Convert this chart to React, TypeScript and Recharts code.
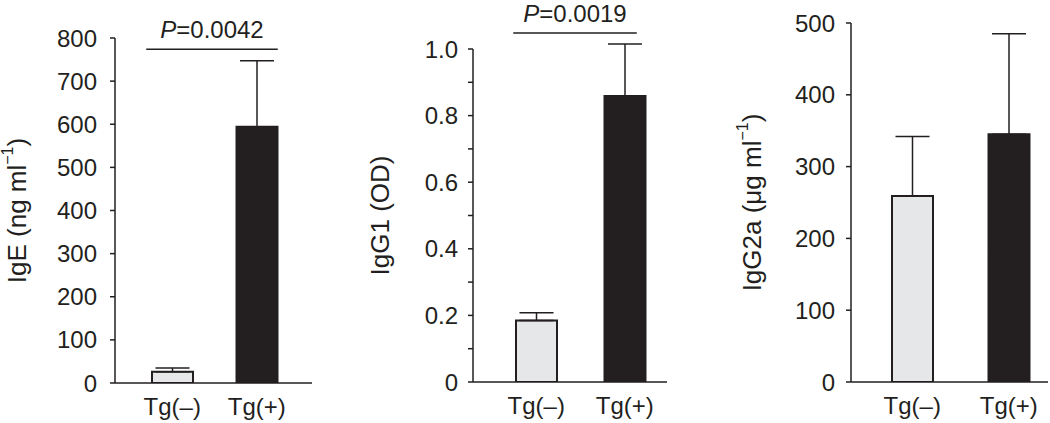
import React from "react";
import { BarChart, Bar, XAxis, YAxis, ErrorBar, Cell, ReferenceLine } from "recharts";

const categories = ["Tg(–)", "Tg(+)"];
const barFills = ["#e6e7e8", "#231f20"];

// IgE (ng/ml)
const igeMean = [26, 594];
const igeErr = [9, 153];
const igeTicks = [0, 100, 200, 300, 400, 500, 600, 700, 800];

// IgG1 (OD)
const igg1Mean = [0.185, 0.859];
const igg1Err = [0.023, 0.156];
const igg1Ticks = [0, 0.1, 0.2, 0.3, 0.4, 0.5, 0.6, 0.7, 0.8, 0.9, 1.0];
const igg1TickLabels = ["0", "", "0.2", "", "0.4", "", "0.6", "", "0.8", "", "1.0"];

// IgG2a (ug/ml)
const igg2aMean = [259, 345];
const igg2aErr = [83, 140];
const igg2aTicks = [0, 100, 200, 300, 400, 500];

const INK = "#231f20";
const FONT = "'Liberation Sans', Arial, Helvetica, sans-serif";

function rows(mean: number[], err: number[]) {
  // one-sided (upward) error bars
  return categories.map((name, i) => ({ name, value: mean[i], err: [0, err[i]] }));
}

interface Sig { y: number; text: string; ext: [number, number] }

interface PanelProps {
  left: number;
  width: number;
  axisWidth: number;
  margin: { top: number; right: number; bottom: number };
  pad: { left: number; right: number };
  data: { name: string; value: number; err: number[] }[];
  ticks: number[];
  domain: [number, number];
  tickFmt?: (v: number, i: number) => string;
  tickMargin: number;
  labelDx: number;
  yLabel: React.ReactNode;
  sig?: Sig;
}

function Panel(p: PanelProps) {
  const yLabel = (props: any) => {
    const vb = props.viewBox;
    const cx = vb.x + p.labelDx;
    const cy = vb.y + vb.height / 2;
    return (
      <text x={cx} y={cy} transform={`rotate(-90 ${cx} ${cy})`} textAnchor="middle"
        dominantBaseline="central" fontSize={26} fill={INK} fontFamily={FONT}>
        {p.yLabel}
      </text>
    );
  };

  const sig = p.sig;
  return (
    <div style={{ position: "absolute", left: p.left, top: 0 }}>
      <BarChart width={p.width} height={423} data={p.data}
        margin={{ top: p.margin.top, right: p.margin.right, bottom: p.margin.bottom, left: 0 }}>
        <XAxis dataKey="name" height={30} padding={p.pad} tickLine={false} tickSize={6} tickMargin={9}
          axisLine={{ stroke: INK, strokeWidth: 1.5 }}
          tick={{ fontSize: 24, fill: INK, fontFamily: FONT }} />
        <YAxis width={p.axisWidth} domain={p.domain} ticks={p.ticks} interval={0} allowDataOverflow
          tickFormatter={p.tickFmt} tickSize={5} tickMargin={p.tickMargin}
          axisLine={{ stroke: INK, strokeWidth: 1.5 }}
          tickLine={{ stroke: INK, strokeWidth: 1.5 }}
          tick={{ fontSize: 24, fill: INK, fontFamily: FONT }}
          label={yLabel} />
        <Bar dataKey="value" barSize={41} stroke={INK} strokeWidth={2} isAnimationActive={false}>
          {p.data.map((d, i) => <Cell key={d.name} fill={barFills[i]} />)}
          <ErrorBar dataKey="err" width={17} stroke={INK} strokeWidth={1.5} direction="y"
            isAnimationActive={false} />
        </Bar>
        {sig && (
          <ReferenceLine ifOverflow="visible"
            segment={[{ x: categories[0], y: sig.y }, { x: categories[1], y: sig.y }]}
            shape={(l: any) => (
              <line x1={l.x1 + sig.ext[0]} y1={l.y1} x2={l.x2 + sig.ext[1]} y2={l.y2}
                stroke={INK} strokeWidth={1.5} />
            )}
            label={(props: any) => {
              const vb = props.viewBox;
              const cx = vb.x + vb.width / 2 + (sig.ext[0] + sig.ext[1]) / 2;
              return (
                <text x={cx} y={vb.y - 11} textAnchor="middle" fontSize={24} fill={INK} fontFamily={FONT}>
                  <tspan fontStyle="italic">P</tspan>
                  <tspan>{sig.text}</tspan>
                </text>
              );
            }} />
        )}
      </BarChart>
    </div>
  );
}

export default function App() {
  return (
    <div style={{ position: "absolute", left: 0, top: 0, width: 1050, height: 423, background: "#fff" }}>
      <Panel left={0} width={320} axisWidth={115} margin={{ top: 38, right: 8, bottom: 10 }}
        pad={{ left: 15, right: 13 }} data={rows(igeMean, igeErr)} ticks={igeTicks} domain={[0, 800]}
        tickMargin={13} labelDx={17}
        yLabel={<>IgE (ng ml<tspan dy={-10} fontSize={16}>−1</tspan><tspan dy={10}>)</tspan></>}
        sig={{ y: 774, text: "=0.0042", ext: [-26, 21] }} />
      <Panel left={355} width={315} axisWidth={118} margin={{ top: 49, right: 3, bottom: 11 }}
        pad={{ left: 19, right: -2 }} data={rows(igg1Mean, igg1Err)} ticks={igg1Ticks} domain={[0, 1]}
        tickFmt={(v, i) => igg1TickLabels[i]} tickMargin={10} labelDx={25}
        yLabel={<>IgG1 (OD)</>}
        sig={{ y: 1.048, text: "=0.0019", ext: [-23, 12] }} />
      <Panel left={730} width={320} axisWidth={121} margin={{ top: 23, right: 2, bottom: 11 }}
        pad={{ left: 13, right: -9 }} data={rows(igg2aMean, igg2aErr)} ticks={igg2aTicks} domain={[0, 500]}
        tickMargin={11} labelDx={22}
        yLabel={<>IgG2a (μg ml<tspan dy={-10} fontSize={16}>−1</tspan><tspan dy={10}>)</tspan></>} />
    </div>
  );
}
